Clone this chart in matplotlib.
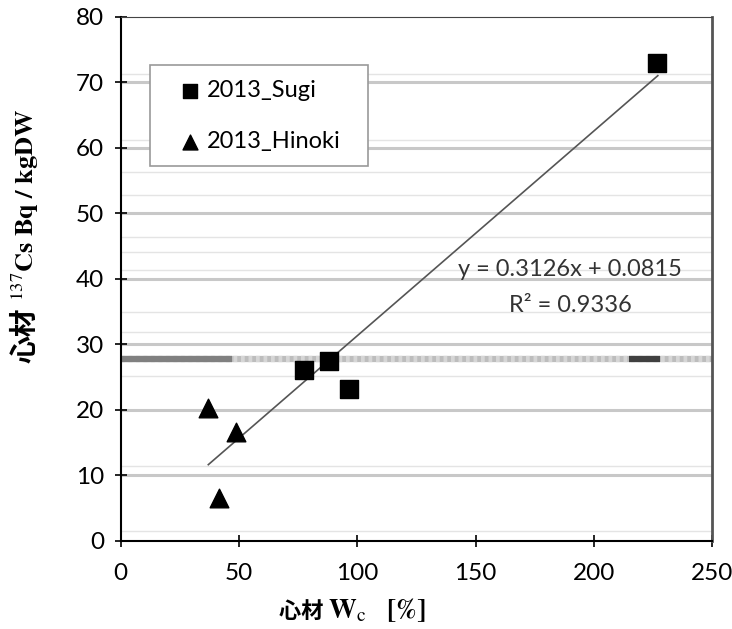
import numpy as np
import matplotlib.pyplot as plt
from matplotlib.patches import Rectangle
from matplotlib.transforms import IdentityTransform

plt.rcParams['font.family'] = ['Lato', 'DejaVu Sans']
plt.rcParams['mathtext.fontset'] = 'stix'

# data
sugi_x = [226.7, 88.0, 77.4, 96.4]
sugi_y = [72.9, 27.5, 26.1, 23.2]
hinoki_x = [36.8, 48.6, 41.5]
hinoki_y = [20.3, 16.6, 6.6]
slope, intercept = 0.3126, 0.0815
fit_range = [37.0, 227.0]
ref_level = 27.8
xticks = [0, 50, 100, 150, 200, 250]
yticks = [0, 10, 20, 30, 40, 50, 60, 70, 80]
faint_lines = [1.5, 11.5, 25.2, 31.9, 35.0, 41.4, 44.1, 46.4, 52.8, 56.3, 61.2, 71.3]

fig = plt.figure(figsize=(7.32, 6.29), dpi=100)
ax = fig.add_axes([0.165, 0.140, 0.808, 0.833])

# gridlines
for y in yticks[1:-1]:
    ax.axhline(y, color='#c8c8c8', lw=2.2, zorder=0)
for y in faint_lines:
    ax.axhline(y, color='#e4e4e4', lw=1.0, zorder=0)

# reference band
ax.axhline(ref_level, color='#bdbdbd', lw=4.5, zorder=1)
ax.axhline(ref_level, color='#d6d6d6', lw=4.5, dashes=(0.6, 0.6), zorder=1)
ax.plot([0, 47], [ref_level, ref_level], color='#808080', lw=4.5, solid_capstyle='butt', zorder=1)
ax.plot([215, 228], [ref_level, ref_level], color='#404040', lw=4.5, solid_capstyle='butt', zorder=1)

# trend line
fx = np.array(fit_range)
ax.plot(fx, slope * fx + intercept, color='#555555', lw=1.2, zorder=2)

ax.scatter(sugi_x, sugi_y, marker='s', s=160, color='black', zorder=3, label='2013_Sugi')
ax.scatter(hinoki_x, hinoki_y, marker='^', s=180, color='black', zorder=3, label='2013_Hinoki')

ax.text(190, 41.4, 'y = 0.3126x + 0.0815', ha='center', va='center', fontsize=17, color='#333333')
ax.text(190, 36.0, 'R² = 0.9336', ha='center', va='center', fontsize=17, color='#333333')

ax.set_xlim(0, 250)
ax.set_ylim(0, 80)
ax.set_xticks(xticks)
ax.set_yticks(yticks)
ax.tick_params(direction='inout', length=8, width=1.2, labelsize=17.5, pad=8, colors='black')
ax.tick_params(axis='x', pad=12)
for s in ['left', 'bottom']:
    ax.spines[s].set_linewidth(1.5)
ax.spines['top'].set_color('#444444')
ax.spines['right'].set_color('#555555')
ax.spines['right'].set_linewidth(2)

# legend box drawn separately so its size matches the original
ax.add_patch(Rectangle((0.049, 0.716), 0.369, 0.192, transform=ax.transAxes,
                       facecolor='white', edgecolor='#999999', lw=1.2, zorder=4))
leg = ax.legend(loc='upper left', bbox_to_anchor=(0.097, 0.880), fontsize=17,
                frameon=False, handletextpad=0.2, labelspacing=1.27, borderpad=0,
                handlelength=1.0, markerscale=0.8, borderaxespad=0)
leg.set_zorder(5)

# axis labels: CJK part and serif part drawn as separate pieces
renderer = fig.canvas.get_renderer()


def place(pieces, cx, cy, vertical):
    texts = []
    for s, kw in pieces:
        t = fig.text(0, 0, s, transform=IdentityTransform(), ha='left', va='baseline',
                     rotation=90 if vertical else 0, rotation_mode='anchor', **kw)
        texts.append(t)
    sizes = []
    for t in texts:
        bb = t.get_window_extent(renderer)
        sizes.append(bb.height if vertical else bb.width)
    pos = (cy if vertical else cx) - sum(sizes) / 2
    for t, sz in zip(texts, sizes):
        t.set_position((cx, pos) if vertical else (pos, cy))
        pos += sz


place([('心材 ', dict(family='Noto Sans CJK JP', fontweight='bold', fontsize=16)),
       (r'$\mathbf{W}_\mathrm{c}\quad\mathbf{[\%]}$', dict(fontsize=20))], 352, 11, False)
place([('心材', dict(family='Noto Sans CJK JP', fontweight='bold', fontsize=20)),
       (r'$\ ^{137}\mathbf{Cs\ Bq\ /\ kgDW}$', dict(fontsize=19))], 34, 393, True)

fig.savefig('out.png', dpi=100)
